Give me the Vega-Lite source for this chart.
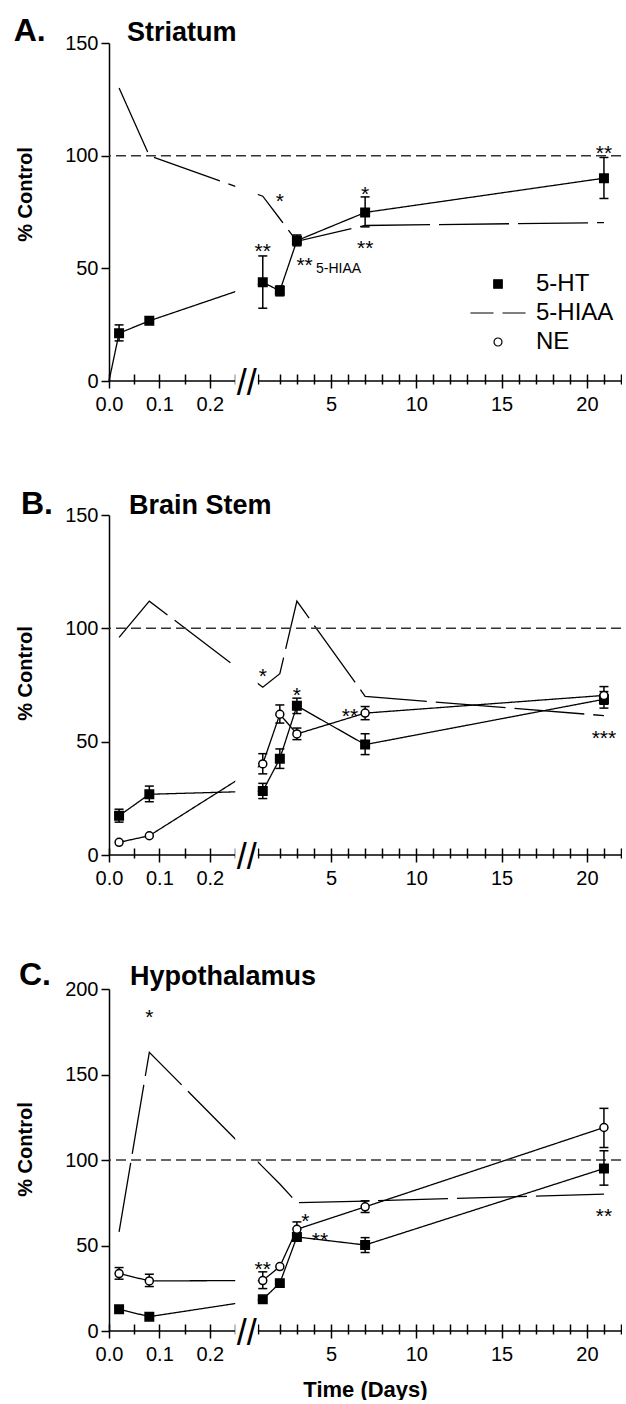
{
"$schema": "https://vega.github.io/schema/vega-lite/v6.json",
"padding": {"left": 13, "top": 15, "right": 0, "bottom": 0},
"config": {"font": "Liberation Sans", "view": {"stroke": null}, "text": {"font": "Liberation Sans", "color": "black"}, "axis": {"labelFont": "Liberation Sans", "titleFont": "Liberation Sans"}, "legend": {"labelFont": "Liberation Sans"}},
"datasets": {
"pts": [
{"panel":"A","series":"5-HT","t":0,"v":0},
{"panel":"A","series":"5-HT","t":0.02,"v":21.2,"lo":17.8,"hi":24.9},
{"panel":"A","series":"5-HT","t":0.08,"v":26.7},
{"panel":"A","series":"5-HT","t":1,"v":43.8,"lo":32.3,"hi":55.5},
{"panel":"A","series":"5-HT","t":2,"v":40,"lo":37.8,"hi":42.2},
{"panel":"A","series":"5-HT","t":3,"v":62.3,"lo":60,"hi":64.8},
{"panel":"A","series":"5-HT","t":7,"v":74.8,"lo":68.4,"hi":81.7},
{"panel":"A","series":"5-HT","t":21,"v":90,"lo":81,"hi":99.2},
{"panel":"A","series":"5-HIAA","t":0.02,"v":130},
{"panel":"A","series":"5-HIAA","t":0.08,"v":100},
{"panel":"A","series":"5-HIAA","t":1,"v":82},
{"panel":"A","series":"5-HIAA","t":2,"v":72},
{"panel":"A","series":"5-HIAA","t":3,"v":62},
{"panel":"A","series":"5-HIAA","t":7,"v":69},
{"panel":"A","series":"5-HIAA","t":21,"v":70.3},
{"panel":"B","series":"5-HT","t":0.02,"v":17.3,"lo":14.5,"hi":20.2},
{"panel":"B","series":"5-HT","t":0.08,"v":26.8,"lo":23.5,"hi":30.4},
{"panel":"B","series":"5-HT","t":1,"v":28.2,"lo":24.9,"hi":31.6},
{"panel":"B","series":"5-HT","t":2,"v":42.5,"lo":38.2,"hi":46.8},
{"panel":"B","series":"5-HT","t":3,"v":65.8,"lo":62.4,"hi":69.2},
{"panel":"B","series":"5-HT","t":7,"v":48.7,"lo":44.3,"hi":53.5},
{"panel":"B","series":"5-HT","t":21,"v":68.7,"lo":64.8,"hi":72.1},
{"panel":"B","series":"NE","t":0.02,"v":5.6},
{"panel":"B","series":"NE","t":0.08,"v":8.5},
{"panel":"B","series":"NE","t":1,"v":40.2,"lo":35.8,"hi":44.7},
{"panel":"B","series":"NE","t":2,"v":62.1,"lo":58.2,"hi":66.2},
{"panel":"B","series":"NE","t":3,"v":53.4,"lo":50.9,"hi":56},
{"panel":"B","series":"NE","t":7,"v":62.6,"lo":59.7,"hi":65.5},
{"panel":"B","series":"NE","t":21,"v":70.4,"lo":66.5,"hi":74.3},
{"panel":"B","series":"5-HIAA","t":0.02,"v":96},
{"panel":"B","series":"5-HIAA","t":0.08,"v":112},
{"panel":"B","series":"5-HIAA","t":1,"v":74},
{"panel":"B","series":"5-HIAA","t":2,"v":80},
{"panel":"B","series":"5-HIAA","t":3,"v":112},
{"panel":"B","series":"5-HIAA","t":7,"v":70},
{"panel":"B","series":"5-HIAA","t":21,"v":61.5},
{"panel":"C","series":"5-HT","t":0.02,"v":12.7},
{"panel":"C","series":"5-HT","t":0.08,"v":8.4},
{"panel":"C","series":"5-HT","t":1,"v":18.5},
{"panel":"C","series":"5-HT","t":2,"v":28},
{"panel":"C","series":"5-HT","t":3,"v":55},
{"panel":"C","series":"5-HT","t":7,"v":50.3,"lo":45.9,"hi":54.6},
{"panel":"C","series":"5-HT","t":21,"v":95,"lo":85.3,"hi":105.4},
{"panel":"C","series":"NE","t":0.02,"v":33.6,"lo":30.3,"hi":37.1},
{"panel":"C","series":"NE","t":0.08,"v":29.3,"lo":26,"hi":33.2},
{"panel":"C","series":"NE","t":1,"v":29.5,"lo":24.8,"hi":34.6},
{"panel":"C","series":"NE","t":2,"v":37.7},
{"panel":"C","series":"NE","t":3,"v":59.5,"lo":55.5,"hi":63.8},
{"panel":"C","series":"NE","t":7,"v":72.6,"lo":69.3,"hi":76.1},
{"panel":"C","series":"NE","t":21,"v":119,"lo":107.3,"hi":130.2},
{"panel":"C","series":"5-HIAA","t":0.02,"v":58},
{"panel":"C","series":"5-HIAA","t":0.08,"v":163},
{"panel":"C","series":"5-HIAA","t":1,"v":96},
{"panel":"C","series":"5-HIAA","t":2,"v":86},
{"panel":"C","series":"5-HIAA","t":3,"v":75},
{"panel":"C","series":"5-HIAA","t":7,"v":76},
{"panel":"C","series":"5-HIAA","t":21,"v":80}
],
"notes": [
{"panel":"A","t":1,"v":60,"label":"**"},
{"panel":"A","t":2,"v":82,"label":"*"},
{"panel":"A","t":3.45,"v":53.8,"label":"**"},
{"panel":"A","t":7,"v":85.3,"label":"*"},
{"panel":"A","t":7,"v":61.3,"label":"**"},
{"panel":"A","t":21,"v":103.6,"label":"**"},
{"panel":"B","t":1,"v":81,"label":"*"},
{"panel":"B","t":3,"v":72.7,"label":"*"},
{"panel":"B","t":6.11,"v":63.5,"label":"**"},
{"panel":"B","t":21,"v":53.8,"label":"***"},
{"panel":"C","t":0.08,"v":186.5,"label":"*"},
{"panel":"C","t":1,"v":39,"label":"**"},
{"panel":"C","t":3.5,"v":67,"label":"*"},
{"panel":"C","t":4.35,"v":56.3,"label":"**"},
{"panel":"C","t":21,"v":70,"label":"**"}
],
"subnotes": [
{"panel":"A","t":4.12,"v":49.5,"label":"5-HIAA"}
]
},
"spacing": 134,
"bounds": "flush",
"resolve": {"legend": {"shape": "independent", "fill": "independent", "stroke": "independent"}},
"vconcat": [
{
"width": 512, "height": 338,
"data": {"name": "pts"},
"layer": [
{"transform": [{"filter": "datum.panel == 'A'"}],
 "mark": {"type": "line", "color": "black", "strokeWidth": 1.3},
 "encoding": {
  "x": {"field": "t", "type": "quantitative", "scale": {"domain": [0, 0.25, 0.72, 22], "range": [0, 126, 149, 512], "nice": false, "zero": false},
   "axis": {"values": [0,0.05,0.1,0.15,0.2,0.25,0.72,2,3,4,5,6,7,8,9,10,11,12,13,14,15,16,17,18,19,20,21,22], "tickCount": 100,
    "labelExpr": "datum.value == 0 ? '0.0' : datum.value == 0.1 ? '0.1' : datum.value == 0.2 ? '0.2' : (datum.value >= 5 && datum.value % 5 == 0) ? format(datum.value, 'd') : ''",
    "domain": false, "grid": false, "offset": -7,
    "tickSize": {"condition": {"test": "datum.value == 0 || datum.value == 0.1 || datum.value == 0.2 || (datum.value >= 5 && datum.value % 5 == 0)", "value": 14}, "value": 10},
    "tickColor": "black", "tickWidth": 1.5, "labelFontSize": 20, "labelColor": "black", "labelPadding": 6,
    "labelOverlap": false, "labelFlush": false, "labelBound": false, "title": null}},
  "y": {"field": "v", "type": "quantitative", "scale": {"domain": [0, 150], "nice": false, "zero": false},
   "axis": {"values": [0,50,100,150], "grid": false, "domainColor": "black", "domainWidth": 1.5, "tickColor": "black", "tickWidth": 1.5, "tickSize": 8,
    "labelFontSize": 20, "labelColor": "black", "labelPadding": 3, "title": "% Control", "titleFontSize": 20, "titleFontWeight": "bold", "titleColor": "black", "titlePadding": 29, "titleY": 151}},
  "detail": {"field": "series"},
  "strokeDash": {"field": "series", "type": "nominal", "scale": {"domain": ["5-HT","5-HIAA","NE"], "range": [[1,0],[70,9],[1,0]]}, "legend": null}
 }},
{"data": {"values": [{}]}, "mark": {"type": "rule", "color": "black", "strokeWidth": 1.5},
 "encoding": {"x": {"datum": 0}, "x2": {"datum": 22}, "y": {"datum": 0}}},
{"data": {"values": [{}]}, "mark": {"type": "rect", "color": "white", "opacity": 1},
 "encoding": {"x": {"datum": 0.255}, "x2": {"datum": 0.715}, "y": {"datum": -3}, "y2": {"datum": 150}}},
{"data": {"values": [{}]}, "mark": {"type": "rule", "color": "#333333", "strokeWidth": 1.5, "strokeDash": [10, 5]},
 "encoding": {"y": {"datum": 100}}},
{"data": {"values": [{}]}, "mark": {"type": "text", "text": "//", "fontSize": 36, "align": "center", "baseline": "middle", "dy": 3},
 "encoding": {"x": {"datum": 0.49}, "y": {"datum": 0}}},
{"transform": [{"filter": "datum.panel == 'A' && isValid(datum.lo)"}],
 "mark": {"type": "rule", "color": "black", "strokeWidth": 1.5},
 "encoding": {"x": {"field": "t", "type": "quantitative"}, "y": {"field": "lo", "type": "quantitative"}, "y2": {"field": "hi"}}},
{"transform": [{"filter": "datum.panel == 'A' && isValid(datum.lo)"}],
 "mark": {"type": "tick", "orient": "horizontal", "size": 9, "thickness": 1.5, "color": "black", "opacity": 1},
 "encoding": {"x": {"field": "t", "type": "quantitative"}, "y": {"field": "lo", "type": "quantitative"}}},
{"transform": [{"filter": "datum.panel == 'A' && isValid(datum.lo)"}],
 "mark": {"type": "tick", "orient": "horizontal", "size": 9, "thickness": 1.5, "color": "black", "opacity": 1},
 "encoding": {"x": {"field": "t", "type": "quantitative"}, "y": {"field": "hi", "type": "quantitative"}}},
{"transform": [{"filter": "datum.panel == 'A' && datum.t > 0 && datum.series != '5-HIAA'"}],
 "mark": {"type": "point", "strokeWidth": 1.5, "opacity": 1, "size": 72, "filled": true},
 "encoding": {
  "x": {"field": "t", "type": "quantitative"},
  "y": {"field": "v", "type": "quantitative"},
  "shape": {"field": "series", "type": "nominal", "scale": {"domain": ["5-HT","5-HIAA","NE"], "range": ["square", "M-6.5,0H-1.06M1.06,0H6.5", "M0.94,0A0.94,0.94,0,1,1,-0.94,0A0.94,0.94,0,1,1,0.94,0Z"]},
   "legend": {"title": null, "orient": "none", "legendX": 377, "legendY": 229, "padding": 0, "labelFontSize": 24, "labelColor": "black", "labelOffset": 26, "rowPadding": 5, "symbolStrokeWidth": 1.2, "symbolSize": 72, "symbolOpacity": 1}},
  "fill": {"field": "series", "type": "nominal", "scale": {"domain": ["5-HT","5-HIAA","NE"], "range": ["black", "transparent", "white"]},
   "legend": {"title": null, "orient": "none", "legendX": 377, "legendY": 229, "padding": 0, "labelFontSize": 24, "labelColor": "black", "labelOffset": 26, "rowPadding": 5, "symbolStrokeWidth": 1.2, "symbolSize": 72, "symbolOpacity": 1}},
  "stroke": {"field": "series", "type": "nominal", "scale": {"domain": ["5-HT","5-HIAA","NE"], "range": ["black", "black", "black"]},
   "legend": {"title": null, "orient": "none", "legendX": 377, "legendY": 229, "padding": 0, "labelFontSize": 24, "labelColor": "black", "labelOffset": 26, "rowPadding": 5, "symbolStrokeWidth": 1.2, "symbolSize": 72, "symbolOpacity": 1}}
 }},
{"data": {"name": "notes"}, "transform": [{"filter": "datum.panel == 'A'"}],
 "mark": {"type": "text", "fontSize": 21, "align": "center", "baseline": "middle", "dy": 6},
 "encoding": {"x": {"field": "t", "type": "quantitative"}, "y": {"field": "v", "type": "quantitative"}, "text": {"field": "label"}}},
{"data": {"name": "subnotes"}, "transform": [{"filter": "datum.panel == 'A'"}],
 "mark": {"type": "text", "fontSize": 14, "align": "left", "baseline": "middle"},
 "encoding": {"x": {"field": "t", "type": "quantitative"}, "y": {"field": "v", "type": "quantitative"}, "text": {"field": "label"}}},
{"data": {"values": [{}]}, "mark": {"type": "text", "text": "A.", "fontSize": 32, "fontWeight": "bold", "align": "left", "baseline": "alphabetic"},
 "encoding": {"x": {"datum": -0.189}, "y": {"datum": 150.7}}},
{"data": {"values": [{}]}, "mark": {"type": "text", "text": "Striatum", "fontSize": 27, "fontWeight": "bold", "align": "left", "baseline": "alphabetic"},
 "encoding": {"x": {"datum": 0.0357}, "y": {"datum": 150.7}}}
]
},
{
"width": 512, "height": 340,
"data": {"name": "pts"},
"layer": [
{"transform": [{"filter": "datum.panel == 'B'"}],
 "mark": {"type": "line", "color": "black", "strokeWidth": 1.3},
 "encoding": {
  "x": {"field": "t", "type": "quantitative", "scale": {"domain": [0, 0.25, 0.72, 22], "range": [0, 126, 149, 512], "nice": false, "zero": false},
   "axis": {"values": [0,0.05,0.1,0.15,0.2,0.25,0.72,2,3,4,5,6,7,8,9,10,11,12,13,14,15,16,17,18,19,20,21,22], "tickCount": 100,
    "labelExpr": "datum.value == 0 ? '0.0' : datum.value == 0.1 ? '0.1' : datum.value == 0.2 ? '0.2' : (datum.value >= 5 && datum.value % 5 == 0) ? format(datum.value, 'd') : ''",
    "domain": false, "grid": false, "offset": -7,
    "tickSize": {"condition": {"test": "datum.value == 0 || datum.value == 0.1 || datum.value == 0.2 || (datum.value >= 5 && datum.value % 5 == 0)", "value": 14}, "value": 10},
    "tickColor": "black", "tickWidth": 1.5, "labelFontSize": 20, "labelColor": "black", "labelPadding": 6,
    "labelOverlap": false, "labelFlush": false, "labelBound": false, "title": null}},
  "y": {"field": "v", "type": "quantitative", "scale": {"domain": [0, 150], "nice": false, "zero": false},
   "axis": {"values": [0,50,100,150], "grid": false, "domainColor": "black", "domainWidth": 1.5, "tickColor": "black", "tickWidth": 1.5, "tickSize": 8,
    "labelFontSize": 20, "labelColor": "black", "labelPadding": 3, "title": "% Control", "titleFontSize": 20, "titleFontWeight": "bold", "titleColor": "black", "titlePadding": 29, "titleY": 158}},
  "detail": {"field": "series"},
  "strokeDash": {"field": "series", "type": "nominal", "scale": {"domain": ["5-HT","5-HIAA","NE"], "range": [[1,0],[70,9],[1,0]]}, "legend": null}
 }},
{"data": {"values": [{}]}, "mark": {"type": "rule", "color": "black", "strokeWidth": 1.5},
 "encoding": {"x": {"datum": 0}, "x2": {"datum": 22}, "y": {"datum": 0}}},
{"data": {"values": [{}]}, "mark": {"type": "rect", "color": "white", "opacity": 1},
 "encoding": {"x": {"datum": 0.255}, "x2": {"datum": 0.715}, "y": {"datum": -3}, "y2": {"datum": 150}}},
{"data": {"values": [{}]}, "mark": {"type": "rule", "color": "#333333", "strokeWidth": 1.5, "strokeDash": [10, 5]},
 "encoding": {"y": {"datum": 100}}},
{"data": {"values": [{}]}, "mark": {"type": "text", "text": "//", "fontSize": 36, "align": "center", "baseline": "middle", "dy": 3},
 "encoding": {"x": {"datum": 0.49}, "y": {"datum": 0}}},
{"transform": [{"filter": "datum.panel == 'B' && isValid(datum.lo)"}],
 "mark": {"type": "rule", "color": "black", "strokeWidth": 1.5},
 "encoding": {"x": {"field": "t", "type": "quantitative"}, "y": {"field": "lo", "type": "quantitative"}, "y2": {"field": "hi"}}},
{"transform": [{"filter": "datum.panel == 'B' && isValid(datum.lo)"}],
 "mark": {"type": "tick", "orient": "horizontal", "size": 9, "thickness": 1.5, "color": "black", "opacity": 1},
 "encoding": {"x": {"field": "t", "type": "quantitative"}, "y": {"field": "lo", "type": "quantitative"}}},
{"transform": [{"filter": "datum.panel == 'B' && isValid(datum.lo)"}],
 "mark": {"type": "tick", "orient": "horizontal", "size": 9, "thickness": 1.5, "color": "black", "opacity": 1},
 "encoding": {"x": {"field": "t", "type": "quantitative"}, "y": {"field": "hi", "type": "quantitative"}}},
{"transform": [{"filter": "datum.panel == 'B' && datum.t > 0 && datum.series != '5-HIAA'"}],
 "mark": {"type": "point", "strokeWidth": 1.5, "opacity": 1, "size": 72, "filled": true},
 "encoding": {
  "x": {"field": "t", "type": "quantitative"},
  "y": {"field": "v", "type": "quantitative"},
  "shape": {"field": "series", "type": "nominal", "scale": {"domain": ["5-HT","5-HIAA","NE"], "range": ["square", "M-6.5,0H-1.06M1.06,0H6.5", "M0.94,0A0.94,0.94,0,1,1,-0.94,0A0.94,0.94,0,1,1,0.94,0Z"]}, "legend": null},
  "fill": {"field": "series", "type": "nominal", "scale": {"domain": ["5-HT","5-HIAA","NE"], "range": ["black", "transparent", "white"]}, "legend": null},
  "stroke": {"field": "series", "type": "nominal", "scale": {"domain": ["5-HT","5-HIAA","NE"], "range": ["black", "black", "black"]}, "legend": null}
 }},
{"data": {"name": "notes"}, "transform": [{"filter": "datum.panel == 'B'"}],
 "mark": {"type": "text", "fontSize": 21, "align": "center", "baseline": "middle", "dy": 6},
 "encoding": {"x": {"field": "t", "type": "quantitative"}, "y": {"field": "v", "type": "quantitative"}, "text": {"field": "label"}}},
{"data": {"values": [{}]}, "mark": {"type": "text", "text": "B.", "fontSize": 32, "fontWeight": "bold", "align": "left", "baseline": "alphabetic"},
 "encoding": {"x": {"datum": -0.1746}, "y": {"datum": 150.6}}},
{"data": {"values": [{}]}, "mark": {"type": "text", "text": "Brain Stem", "fontSize": 27, "fontWeight": "bold", "align": "left", "baseline": "alphabetic"},
 "encoding": {"x": {"datum": 0.0397}, "y": {"datum": 150.6}}}
]
},
{
"width": 512, "height": 342,
"data": {"name": "pts"},
"layer": [
{"transform": [{"filter": "datum.panel == 'C'"}],
 "mark": {"type": "line", "color": "black", "strokeWidth": 1.3},
 "encoding": {
  "x": {"field": "t", "type": "quantitative", "scale": {"domain": [0, 0.25, 0.72, 22], "range": [0, 126, 149, 512], "nice": false, "zero": false},
   "axis": {"values": [0,0.05,0.1,0.15,0.2,0.25,0.72,2,3,4,5,6,7,8,9,10,11,12,13,14,15,16,17,18,19,20,21,22], "tickCount": 100,
    "labelExpr": "datum.value == 0 ? '0.0' : datum.value == 0.1 ? '0.1' : datum.value == 0.2 ? '0.2' : (datum.value >= 5 && datum.value % 5 == 0) ? format(datum.value, 'd') : ''",
    "domain": false, "grid": false, "offset": -7,
    "tickSize": {"condition": {"test": "datum.value == 0 || datum.value == 0.1 || datum.value == 0.2 || (datum.value >= 5 && datum.value % 5 == 0)", "value": 14}, "value": 10},
    "tickColor": "black", "tickWidth": 1.5, "labelFontSize": 20, "labelColor": "black", "labelPadding": 6,
    "labelOverlap": false, "labelFlush": false, "labelBound": false,
    "title": "Time (Days)", "titleFontSize": 22, "titleFontWeight": "bold", "titleColor": "black", "titlePadding": 15}},
  "y": {"field": "v", "type": "quantitative", "scale": {"domain": [0, 200], "nice": false, "zero": false},
   "axis": {"values": [0,50,100,150,200], "grid": false, "domainColor": "black", "domainWidth": 1.5, "tickColor": "black", "tickWidth": 1.5, "tickSize": 8,
    "labelFontSize": 20, "labelColor": "black", "labelPadding": 3, "title": "% Control", "titleFontSize": 20, "titleFontWeight": "bold", "titleColor": "black", "titlePadding": 29, "titleY": 160}},
  "detail": {"field": "series"},
  "strokeDash": {"field": "series", "type": "nominal", "scale": {"domain": ["5-HT","5-HIAA","NE"], "range": [[1,0],[70,9],[1,0]]}, "legend": null}
 }},
{"data": {"values": [{}]}, "mark": {"type": "rule", "color": "black", "strokeWidth": 1.5},
 "encoding": {"x": {"datum": 0}, "x2": {"datum": 22}, "y": {"datum": 0}}},
{"data": {"values": [{}]}, "mark": {"type": "rect", "color": "white", "opacity": 1},
 "encoding": {"x": {"datum": 0.255}, "x2": {"datum": 0.715}, "y": {"datum": -4}, "y2": {"datum": 200}}},
{"data": {"values": [{}]}, "mark": {"type": "rule", "color": "#333333", "strokeWidth": 1.5, "strokeDash": [10, 5]},
 "encoding": {"y": {"datum": 100}}},
{"data": {"values": [{}]}, "mark": {"type": "text", "text": "//", "fontSize": 36, "align": "center", "baseline": "middle", "dy": 3},
 "encoding": {"x": {"datum": 0.49}, "y": {"datum": 0}}},
{"transform": [{"filter": "datum.panel == 'C' && isValid(datum.lo)"}],
 "mark": {"type": "rule", "color": "black", "strokeWidth": 1.5},
 "encoding": {"x": {"field": "t", "type": "quantitative"}, "y": {"field": "lo", "type": "quantitative"}, "y2": {"field": "hi"}}},
{"transform": [{"filter": "datum.panel == 'C' && isValid(datum.lo)"}],
 "mark": {"type": "tick", "orient": "horizontal", "size": 9, "thickness": 1.5, "color": "black", "opacity": 1},
 "encoding": {"x": {"field": "t", "type": "quantitative"}, "y": {"field": "lo", "type": "quantitative"}}},
{"transform": [{"filter": "datum.panel == 'C' && isValid(datum.lo)"}],
 "mark": {"type": "tick", "orient": "horizontal", "size": 9, "thickness": 1.5, "color": "black", "opacity": 1},
 "encoding": {"x": {"field": "t", "type": "quantitative"}, "y": {"field": "hi", "type": "quantitative"}}},
{"transform": [{"filter": "datum.panel == 'C' && datum.t > 0 && datum.series != '5-HIAA'"}],
 "mark": {"type": "point", "strokeWidth": 1.5, "opacity": 1, "size": 72, "filled": true},
 "encoding": {
  "x": {"field": "t", "type": "quantitative"},
  "y": {"field": "v", "type": "quantitative"},
  "shape": {"field": "series", "type": "nominal", "scale": {"domain": ["5-HT","5-HIAA","NE"], "range": ["square", "M-6.5,0H-1.06M1.06,0H6.5", "M0.94,0A0.94,0.94,0,1,1,-0.94,0A0.94,0.94,0,1,1,0.94,0Z"]}, "legend": null},
  "fill": {"field": "series", "type": "nominal", "scale": {"domain": ["5-HT","5-HIAA","NE"], "range": ["black", "transparent", "white"]}, "legend": null},
  "stroke": {"field": "series", "type": "nominal", "scale": {"domain": ["5-HT","5-HIAA","NE"], "range": ["black", "black", "black"]}, "legend": null}
 }},
{"data": {"name": "notes"}, "transform": [{"filter": "datum.panel == 'C'"}],
 "mark": {"type": "text", "fontSize": 21, "align": "center", "baseline": "middle", "dy": 6},
 "encoding": {"x": {"field": "t", "type": "quantitative"}, "y": {"field": "v", "type": "quantitative"}, "text": {"field": "label"}}},
{"data": {"values": [{}]}, "mark": {"type": "text", "text": "C.", "fontSize": 32, "fontWeight": "bold", "align": "left", "baseline": "alphabetic"},
 "encoding": {"x": {"datum": -0.1786}, "y": {"datum": 202.3}}},
{"data": {"values": [{}]}, "mark": {"type": "text", "text": "Hypothalamus", "fontSize": 27, "fontWeight": "bold", "align": "left", "baseline": "alphabetic"},
 "encoding": {"x": {"datum": 0.0417}, "y": {"datum": 202.3}}}
]
}
]
}
